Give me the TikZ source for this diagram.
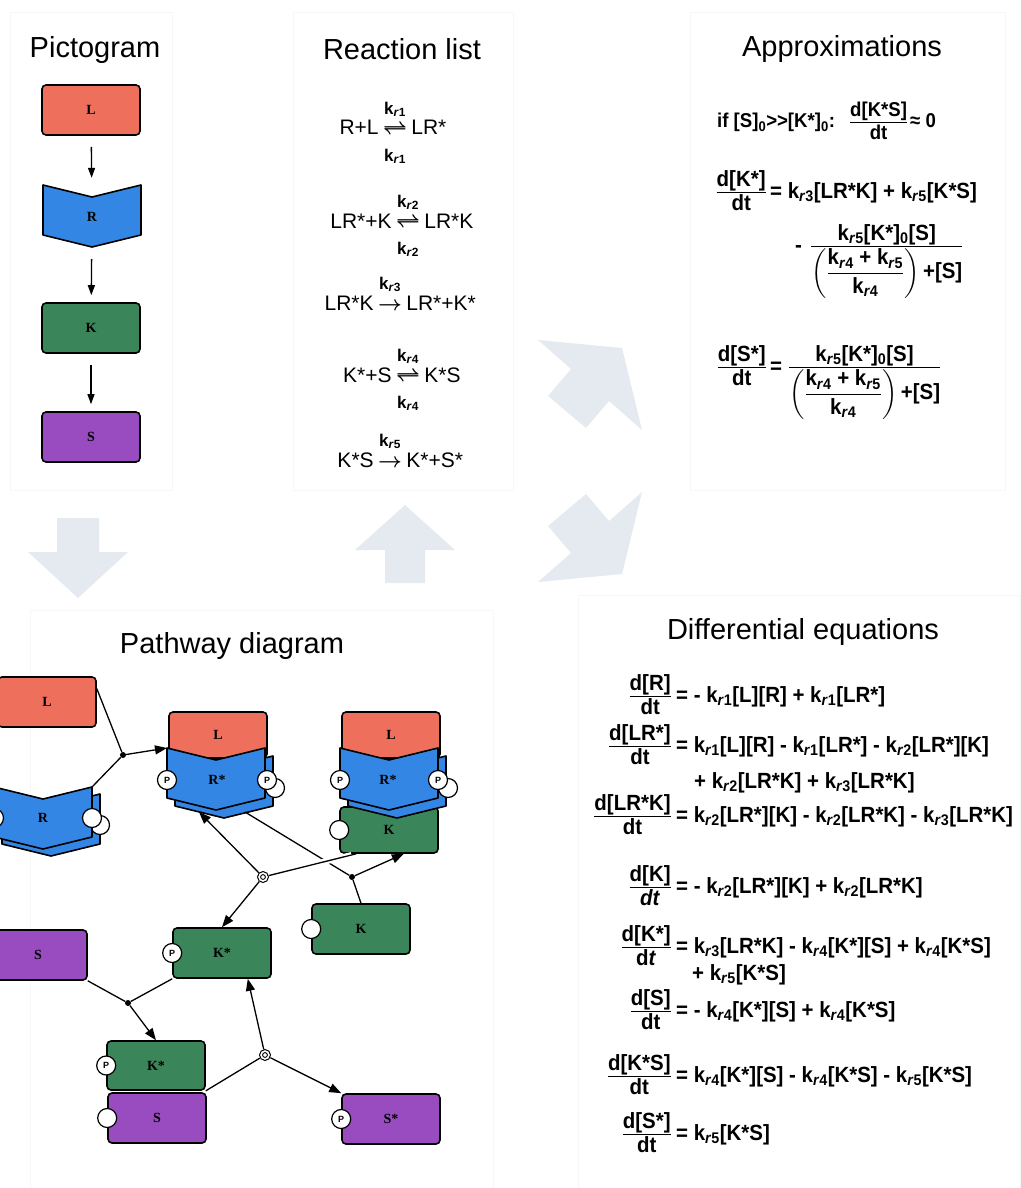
\documentclass[tikz,border=0pt]{standalone}
\usepackage{fontspec}
\usepackage{amsmath}
\setmainfont{Liberation Sans}
\newfontfamily\eqfont[FakeStretch=0.93]{Liberation Sans}
\newfontfamily\glyphfont{Liberation Serif}
\usetikzlibrary{arrows.meta,positioning,calc}

\definecolor{lred}{RGB}{238,112,92}
\definecolor{rblue}{RGB}{52,134,228}
\definecolor{kgreen}{RGB}{58,134,90}
\definecolor{spurple}{RGB}{152,76,192}
\definecolor{flow}{RGB}{228,234,240}

\newcommand\kr[1]{k\textsubscript{\textit{r}#1}}
\newcommand\dd[2][dt]{$\genfrac{}{}{1.3pt}{1}{\textstyle\text{d[#2]}}{\textstyle\text{#1}}$}
\newcommand\mmfrac{\genfrac{}{}{1.3pt}{1}{\textstyle\text{\kr5[K*]\textsubscript{0}[S]}}{\textstyle\left(\genfrac{}{}{0.6pt}{0}{\text{\kr4 + \kr5}}{\text{\kr4}}\right)\text{+[S]}}}
% receptor glyph: left x, top y, fill
\newcommand\receptor[3]{%
  \draw[line width=1.6pt, fill=#3, line join=round] (#1,#2) -- ++(49,12) -- ++(49,-12) -- ++(0,50) -- ++(-49,12) -- ++(-49,-12) -- cycle;}

\tikzset{
  title/.style={font=\fontsize{29}{34}\selectfont, anchor=base, inner sep=0pt},
  glyph/.style={draw, line width=1.6pt, rounded corners=4pt, minimum width=98pt, minimum height=50pt, inner sep=0pt, font=\glyphfont\bfseries\fontsize{14}{14}\selectfont},
  rlab/.style={minimum width=98pt, inner sep=0pt, font=\glyphfont\bfseries\fontsize{14}{14}\selectfont},
  resid/.style={circle, draw, fill=white, line width=1.2pt, minimum size=19pt, inner sep=0pt},
  phos/.style={resid, font=\bfseries\fontsize{9}{9}\selectfont},
  jdot/.style={circle, fill=black, inner sep=0pt, minimum size=6pt},
  dissoc/.style={circle, draw, fill=white, line width=1pt, minimum size=11pt, inner sep=0pt,
    path picture={\draw[line width=0.9pt] (path picture bounding box.center) circle (2.4pt);}},
  link/.style={line width=1.3pt},
  react/.style={link, -{Triangle[length=12pt, width=9pt]}},
  parr/.style={line width=1.3pt, -{Triangle[length=10pt, width=7pt]}, shorten <=11pt, shorten >=7pt},
  rxn/.style={font=\fontsize{21}{25}\selectfont, inner xsep=2pt, inner ysep=0pt},
  klab/.style={font=\bfseries\fontsize{17}{19}\selectfont, inner sep=0pt},
  eq/.style={font=\eqfont\bfseries\fontsize{22}{26}\selectfont, inner sep=0pt},
  panel/.style={draw=black!3, line width=0.5pt}
}

\begin{document}
\begin{tikzpicture}[x=1pt, y=-1pt]
\useasboundingbox (0,0) rectangle (1020,1188);

% faint panels
\draw[panel] (10,12) rectangle (172,490);
\draw[panel] (293,12) rectangle (513,490);
\draw[panel] (690,12) rectangle (1005,490);
\draw[panel] (30,610) rectangle (493,1188);
\draw[panel] (578,595) rectangle (1020,1188);

% flow arrows
\fill[flow] (57,518) -- (99,518) -- (99,552) -- (128,552) -- (78,598) -- (28,552) -- (57,552) -- cycle;
\fill[flow] (385,583) -- (425,583) -- (425,550) -- (455,550) -- (405,505) -- (355,550) -- (385,550) -- cycle;
\fill[flow] (548,396) -- (571,369) -- (538,340) -- (622,348) -- (642,430) -- (609,401) -- (586,428) -- cycle;
\fill[flow] (548,526) -- (571,553) -- (538,582) -- (622,574) -- (642,492) -- (609,521) -- (586,494) -- cycle;

% titles
\node[title] (t1) at (95,58) {Pictogram};
\node[title] (t2) at (402,60) {Reaction list};
\node[title] (t3) at (842,57) {Approximations};
\node[title] (t4) at (232,653) {Pathway diagram};
\node[title] (t5) at (803,639) {Differential equations};

% pictogram
\node[glyph, fill=lred] (pL) at (91,110) {L};
\receptor{43}{185}{rblue}
\node[rlab, minimum height=63pt] (pR) at (92,216.5) {R};
\node[glyph, fill=kgreen] (pK) at (91,328) {K};
\node[glyph, fill=spurple] (pS) at (91,437) {S};
\draw[parr] (pL) -- (pR);
\draw[parr] (pR) -- (pK);
\draw[parr] (pK) -- (pS);

% reaction list
\foreach \n/\x/\y/\lhs/\arr/\rhs in {1/395/135/R+L/\rightleftharpoons/LR*, 2/408/228/LR*+K/\rightleftharpoons/LR*K,
    3/390/310/LR*K/\rightarrow/LR*+K*, 4/408/382/K*+S/\rightleftharpoons/K*S, 5/390/467/K*S/\rightarrow/K*+S*}{
  \node[rxn, anchor=base] (ra\n) at (\x,\y) {$\boldsymbol{\arr}$};
  \node[rxn, anchor=base east] (rl\n) at (ra\n.base west) {\lhs};
  \node[rxn, anchor=base west] (rr\n) at (ra\n.base east) {\rhs};
  \node[klab, anchor=base] (ka\n) at ([yshift=21pt]ra\n.base) {\kr\n};
}
\foreach \n in {1,2,4}
  \node[klab, anchor=base] (kb\n) at ([yshift=-26pt]ra\n.base) {\kr\n};

% approximations
\node[eq, anchor=base west, font=\eqfont\bfseries\fontsize{20}{24}\selectfont] (ap1) at (717,128)
  {if [S]\textsubscript{0}>>[K*]\textsubscript{0}:\hspace{14pt}\dd{K*S}\hspace{2pt}≈ 0};
\node[eq, anchor=base east] (af2) at (767,198) {\dd{K*}};
\node[eq, anchor=base west] (ae2) at ([xshift=3pt]af2.base east) {= \kr3[LR*K] + \kr5[K*S]};
\node[eq, anchor=base west] (ae3) at (795,252) {-\hspace{8pt}$\mmfrac$};
\node[eq, anchor=base east] (af4) at (767,373) {\dd{S*}};
\node[eq, anchor=base west] (ae4) at ([xshift=3pt]af4.base east) {= $\mmfrac$};

% differential equations
\node[eq, anchor=base east] (f1) at (672,702) {\dd{R}};
\node[eq, anchor=base west] (e1) at ([xshift=4pt]f1.base east) {= - \kr1[L][R] + \kr1[LR*]};
\node[eq, anchor=base east] (f2) at (672,752) {\dd{LR*}};
\node[eq, anchor=base west] (e2) at ([xshift=4pt]f2.base east) {= \kr1[L][R] - \kr1[LR*] - \kr2[LR*][K]};
\node[eq, anchor=base west] (e2b) at ([xshift=18pt, yshift=-36pt]e2.base west) {+ \kr2[LR*K] + \kr3[LR*K]};
\node[eq, anchor=base east] (f3) at (672,822) {\dd{LR*K}};
\node[eq, anchor=base west] (e3) at ([xshift=4pt]f3.base east) {= \kr2[LR*][K] - \kr2[LR*K] - \kr3[LR*K]};
\node[eq, anchor=base east] (f4) at (672,893) {\dd[\textit{dt}]{K}};
\node[eq, anchor=base west] (e4) at ([xshift=4pt]f4.base east) {= - \kr2[LR*][K] + \kr2[LR*K]};
\node[eq, anchor=base east] (f5) at (672,953) {\dd[d\textit{t}]{K*}};
\node[eq, anchor=base west] (e5) at ([xshift=4pt]f5.base east) {= \kr3[LR*K] - \kr4[K*][S] + \kr4[K*S]};
\node[eq, anchor=base west] (e5b) at ([xshift=16pt, yshift=-27pt]e5.base west) {+ \kr5[K*S]};
\node[eq, anchor=base east] (f6) at (672,1017) {\dd{S}};
\node[eq, anchor=base west] (e6) at ([xshift=4pt]f6.base east) {= - \kr4[K*][S] + \kr4[K*S]};
\node[eq, anchor=base east] (f7) at (672,1082) {\dd{K*S}};
\node[eq, anchor=base west] (e7) at ([xshift=4pt]f7.base east) {= \kr4[K*][S] - \kr4[K*S] - \kr5[K*S]};
\node[eq, anchor=base east] (f8) at (672,1140) {\dd{S*}};
\node[eq, anchor=base west] (e8) at ([xshift=4pt]f8.base east) {= \kr5[K*S]};

% pathway: free L and R
\node[glyph, fill=lred] (L0) at (47,702) {L};
\receptor{2}{794}{rblue}
\node[resid] (r0b) at (100,825) {};
\receptor{-6}{787}{rblue}
\node[rlab] (R0) at (43,818) {R};
\node[resid] (r0a) at (92,818) {};
\node[resid] (r0c) at (-6,818) {};
\coordinate (R0ne) at (92,787);

% LR* complex
\node[glyph, fill=lred, minimum height=46pt] (L1) at (218,735) {L};
\receptor{175}{756}{rblue}
\node[resid] (r1b) at (275,788) {};
\receptor{167}{748}{rblue}
\node[rlab] (R1) at (217,780) {R*};
\node[phos] (p1a) at (167,780) {P};
\node[phos] (p1b) at (267,780) {P};
\coordinate (c1nw) at (167,748);
\coordinate (c1se) at (245,812);
\coordinate (c1sw) at (199,812);

% LR*K complex
\node[glyph, fill=kgreen, minimum height=46pt] (K2) at (389,830) {K};
\node[resid] (k2s) at (K2.west) {};
\node[glyph, fill=lred, minimum height=46pt] (L2) at (391,735) {L};
\receptor{348}{756}{rblue}
\node[resid] (r2b) at (448,788) {};
\receptor{340}{748}{rblue}
\node[rlab] (R2) at (388,780) {R*};
\node[phos] (p2a) at (340,780) {P};
\node[phos] (p2b) at (438,780) {P};

% free K, S and phosphorylated forms
\node[glyph, fill=kgreen] (K1) at (361,929) {K};
\node[resid] (k1s) at (K1.west) {};
\node[glyph, fill=spurple] (S0) at (38,955) {S};
\node[glyph, fill=kgreen] (K3) at (222,953) {K*};
\node[phos] (p3) at (K3.west) {P};
\node[glyph, fill=kgreen, minimum height=49pt] (K4) at (156,1065.5) {K*};
\node[phos] (p4) at (K4.west) {P};
\node[glyph, fill=spurple] (S1) at (157,1118) {S};
\node[resid] (s1s) at (S1.west) {};
\node[glyph, fill=spurple] (S2) at (391,1119) {S*};
\node[phos] (p5) at (S2.west) {P};

% process nodes
\node[jdot] (j1) at (123,755) {};
\node[jdot] (j2) at (352,877) {};
\node[jdot] (j3) at (128,1003) {};
\node[dissoc] (d1) at (263,877) {};
\node[dissoc] (d2) at (265,1055) {};

% reactions
\draw[link] (L0.15) -- (j1);
\draw[link] (R0ne) -- (j1);
\draw[react] (j1) -- (c1nw);
\draw[link] (c1se) -- (j2);
\draw[link] (K1.north) -- (j2);
\draw[react] (j2) -- (K2.-58);
\draw[link, preaction={draw=white, line width=6pt, shorten <=5pt, shorten >=5pt}] (K2.-144) -- (d1);
\draw[react] (d1) -- (c1sw);
\draw[react] (d1) -- (K3.north);
\draw[link] (S0.south east) -- (j3);
\draw[link] (K3.south west) -- (j3);
\draw[react] (j3) -- (K4.north);
\draw[link] (K4.south east) -- (d2);
\draw[react] (d2) -- (K3.-45);
\draw[react] (d2) -- (S2.north west);
\end{tikzpicture}
\end{document}
